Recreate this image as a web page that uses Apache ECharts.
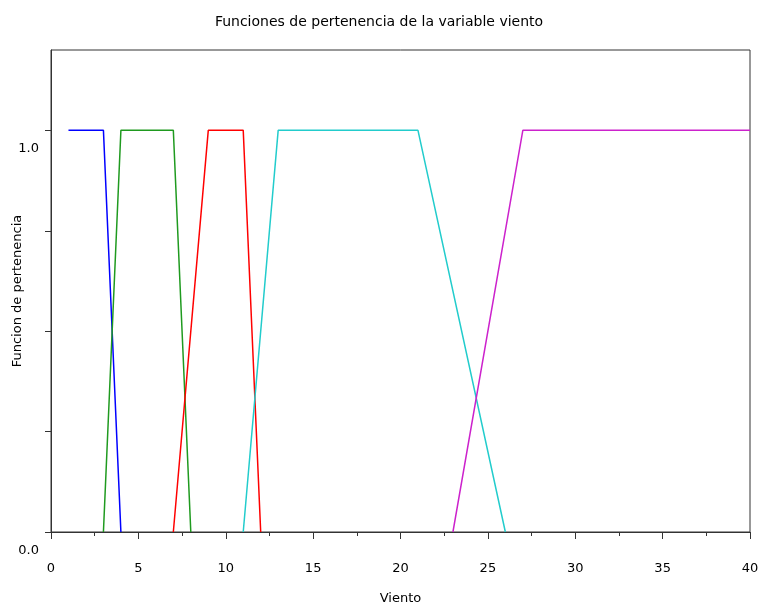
<!DOCTYPE html>
<html>
<head>
<meta charset="utf-8">
<script src="https://cdn.jsdelivr.net/npm/echarts@6/dist/echarts.min.js"></script>
<style>
  html, body { margin: 0; padding: 0; background: #fff; }
  #chart { width: 758px; height: 606px; }
</style>
</head>
<body>
<div id="chart"></div>
<script>
// membership functions for "viento": breakpoints (x) and degree (y)
const bajoX = [1, 3, 4];
const bajoY = [1, 1, 0];
const medioBajoX = [3, 4, 7, 8];
const medioBajoY = [0, 1, 1, 0];
const medioX = [7, 9, 11, 12];
const medioY = [0, 1, 1, 0];
const medioAltoX = [11, 13, 21, 26];
const medioAltoY = [0, 1, 1, 0];
const altoX = [23, 27, 40];
const altoY = [0, 1, 1];

const yTicks = [0, 0.25, 0.5, 0.75, 1];
const yLabels = [0, 1];

const font = "DejaVu Sans";

function pairs(xs, ys) {
  return xs.map((x, i) => [x, ys[i]]);
}

const chart = echarts.init(document.getElementById("chart"));

const mk = (xs, ys, color) => ({
  type: "line",
  data: pairs(xs, ys),
  showSymbol: false,
  animation: false,
  lineStyle: { color: color, width: 1.5 },
  itemStyle: { color: color }
});

const option = {
  backgroundColor: "#fff",
  animation: false,
  title: {
    text: "Funciones de pertenencia de la variable viento",
    left: "center",
    top: 10,
    textStyle: { fontFamily: font, fontSize: 14, fontWeight: "normal", color: "#000" }
  },
  grid: {
    left: 51,
    right: 8,
    top: 50,
    bottom: 74,
    outerBoundsMode: "none",
    containLabel: false,
    show: true,
    borderColor: "#333",
    borderWidth: 1
  },
  xAxis: {
    type: "value",
    min: 0,
    max: 40,
    interval: 5,
    name: "Viento",
    nameLocation: "middle",
    nameGap: 60,
    nameMoveOverlap: false,
    nameTextStyle: { fontFamily: font, fontSize: 13, color: "#000" },
    axisLine: { lineStyle: { color: "#333", width: 1 } },
    axisTick: { inside: false, length: 7, lineStyle: { color: "#333" } },
    minorTick: { show: true, splitNumber: 2, length: 4, lineStyle: { color: "#333" } },
    axisLabel: { fontFamily: font, fontSize: 13, color: "#000", margin: 30 },
    splitLine: { show: false }
  },
  yAxis: {
    type: "value",
    min: 0,
    max: 1.2,
    name: "Funcion de pertenencia",
    nameLocation: "middle",
    nameGap: 27,
    nameMoveOverlap: false,
    nameTextStyle: { fontFamily: font, fontSize: 13, color: "#000" },
    axisLine: { show: true, lineStyle: { color: "#333", width: 1 } },
    axisTick: { show: true, length: 6, customValues: yTicks, lineStyle: { color: "#333" } },
    axisLabel: {
      fontFamily: font,
      fontSize: 13,
      color: "#000",
      margin: 12,
      customValues: yLabels,
      verticalAlign: "top",
      padding: [12, 0, 0, 0],
      formatter: v => v.toFixed(1)
    },
    splitLine: { show: false }
  },
  series: [
    mk(bajoX, bajoY, "#0000ff"),
    mk(medioBajoX, medioBajoY, "#1f9a1f"),
    mk(medioX, medioY, "#ff0000"),
    mk(medioAltoX, medioAltoY, "#22cccc"),
    mk(altoX, altoY, "#cc22cc")
  ]
};

chart.setOption(option);
</script>
</body>
</html>
